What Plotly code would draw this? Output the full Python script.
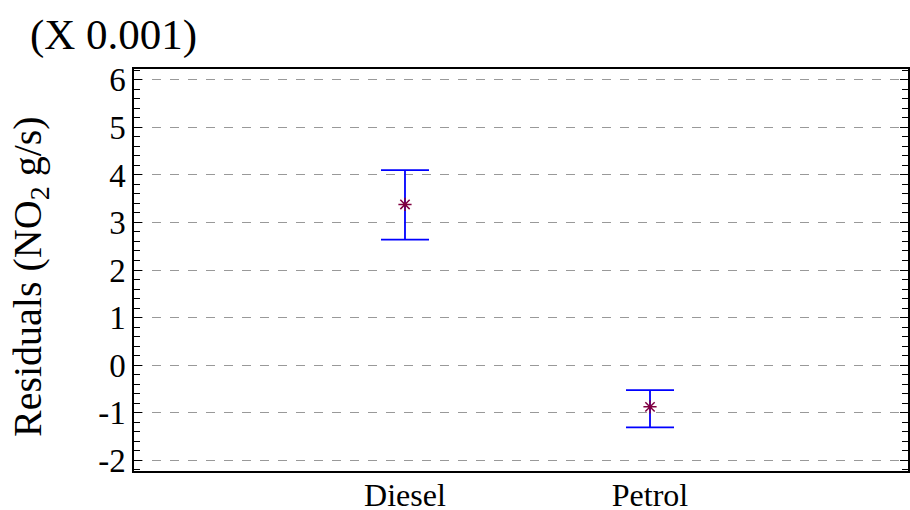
import plotly.graph_objects as go

categories = ["Diesel", "Petrol"]
cat_pos = [1, 2]
means = [3.38, -0.88]
upper = [4.10, -0.53]
lower = [2.64, -1.31]
y_ticks = [6, 5, 4, 3, 2, 1, 0, -1, -2]

err_plus = [u - m for u, m in zip(upper, means)]
err_minus = [m - l for m, l in zip(means, lower)]

FONT = "Liberation Serif"
W, H = 910, 510
ML, MR, MT, MB = 134, 2, 69, 39
PW, PH = W - ML - MR, H - MT - MB

def px_x(x):
    return (x - ML) / PW

def px_y(y):
    return (H - MB - y) / PH

fig = go.Figure()
fig.add_trace(go.Scatter(
    x=cat_pos, y=means, mode="markers",
    marker=dict(symbol="asterisk-open", size=11, color="#800040",
                line=dict(color="#800040", width=1.5)),
    error_y=dict(type="data", symmetric=False, array=err_plus, arrayminus=err_minus,
                 color="#0000FF", thickness=1.8, width=24),
    showlegend=False,
))

fig.update_layout(
    width=W, height=H,
    margin=dict(l=ML, r=MR, t=MT, b=MB),
    plot_bgcolor="white", paper_bgcolor="white",
    font=dict(family=FONT, color="black"),
    xaxis=dict(
        range=[-0.106, 3.053], tickmode="array", tickvals=cat_pos, ticktext=categories,
        showgrid=False, zeroline=False, showline=True, linecolor="black", linewidth=1.5,
        mirror=True, ticks="", tickfont=dict(size=32, family=FONT), automargin=False,
        ticklabelstandoff=-5,
    ),
    yaxis=dict(
        range=[-2.23, 6.23], tickmode="array", tickvals=y_ticks,
        ticktext=[str(v) for v in y_ticks],
        showgrid=True, gridcolor="#999999", griddash="dash", gridwidth=1,
        zeroline=False, showline=True, linecolor="black", linewidth=1.5,
        mirror="ticks", ticks="inside", ticklen=8, tickcolor="black",
        tickfont=dict(size=33, family=FONT), automargin=False,
        minor=dict(dtick=0.2, ticks="inside", ticklen=6, tickcolor="black", showgrid=False),
    ),
    annotations=[
        dict(text="(X 0.001)", x=px_x(28), y=px_y(35), xref="paper", yref="paper",
             showarrow=False, font=dict(size=43, family=FONT),
             xanchor="left", yanchor="middle"),
        dict(text="Residuals (NO<sub>2</sub> g/s)", x=px_x(30), y=px_y(277),
             xref="paper", yref="paper", showarrow=False, textangle=-90,
             font=dict(size=40, family=FONT), xanchor="center", yanchor="middle"),
    ],
)

fig.write_html("out.html", config={"displayModeBar": False},
               post_script="document.body.style.margin='0px';document.body.style.overflow='hidden';")
